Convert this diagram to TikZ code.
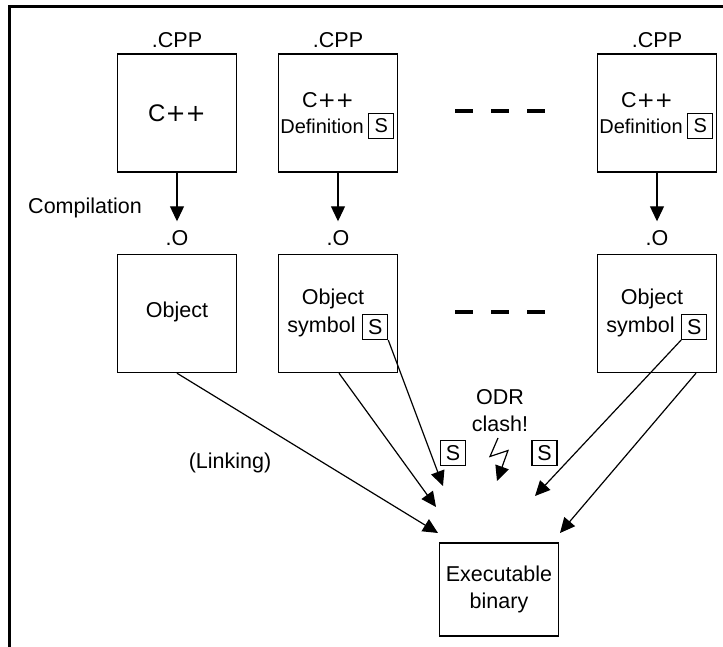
\documentclass[tikz,border=0pt]{standalone}
\usepackage{fontspec}
\setmainfont{Liberation Sans}
\newfontfamily\plusfont{DejaVu Sans}
\usetikzlibrary{arrows.meta, positioning}

\newcommand{\cplus}{C{\plusfont ++}}

\tikzset{
    filebox/.style={draw, line width=1.4pt, minimum width=119pt, minimum height=118pt, inner sep=0pt},
    sbox/.style={draw, line width=1.2pt, minimum size=25pt, inner sep=0pt},
    flow/.style={line width=1.2pt, -{Triangle[length=15pt, width=14pt]}},
    gapdash/.style={line width=4pt, dash pattern=on 18pt off 18pt},
    small/.style={font=\fontsize{20}{24}\selectfont}
}

\begin{document}
\begin{tikzpicture}[x=1pt, y=-1pt, font=\fontsize{21.5}{27}\selectfont]
    \useasboundingbox (0,0) rectangle (723,647);
    \clip (0,0) rectangle (723,647);

    % Draw the outer frame
    \draw[line width=3pt] (9,660) -- (9,7) -- (740,7);

    % Draw the source files
    \node[filebox] (cpp1) at (177,113) {};
    \node[filebox] (cpp2) at (338,113) {};
    \node[filebox] (cpp3) at (657,113) {};
    \node (ext1) at (177,40) {.CPP};
    \node (ext2) at (338,40) {.CPP};
    \node (ext3) at (657,40) {.CPP};

    \node[font=\fontsize{24}{28}\selectfont] (code1) at (177,113) {\cplus};
    \node (code2) at (328,100) {\cplus};
    \node[small] (def2) at (322,126) {Definition};
    \node[sbox, small, right=1pt of def2] (sd2) {S};
    \node (code3) at (647,100) {\cplus};
    \node[small] (def3) at (641,126) {Definition};
    \node[sbox, small, right=1pt of def3] (sd3) {S};

    \draw[gapdash] (455,111) -- (545,111);

    % Draw the object files
    \node[anchor=base, inner sep=0pt] (o1) at (177,245.5) {.O};
    \node[anchor=base, inner sep=0pt] (o2) at (338,245.5) {.O};
    \node[anchor=base, inner sep=0pt] (o3) at (657,245.5) {.O};
    \node (comp) at (85,208) {Compilation};

    \draw[flow, shorten >=9pt] (cpp1) -- (o1);
    \draw[flow, shorten >=9pt] (cpp2) -- (o2);
    \draw[flow, shorten >=9pt] (cpp3) -- (o3);

    \node[filebox] (obj1) at (177,313.5) {};
    \node[filebox] (obj2) at (338,313.5) {};
    \node[filebox] (obj3) at (657,313.5) {};

    \node (name1) at (177,312) {Object};
    \node (name2) at (333,299) {Object};
    \node (sym2) at (321.5,327) {symbol};
    \node[sbox, right=3pt of sym2] (ss2) {S};
    \node (name3) at (652,299) {Object};
    \node (sym3) at (640.5,327) {symbol};
    \node[sbox, right=3pt of sym3] (ss3) {S};

    \draw[gapdash] (455,312) -- (545,312);

    % Draw the linking step
    \node[filebox, minimum height=93pt, align=center] (exe) at (499,589.5) {Executable\\binary};
    \node (link) at (230,463) {(Linking)};
    \node (odr) at (500,397) {ODR};
    \node (clash) at (500,424) {clash!};
    \node[sbox] (sl) at (453,453) {S};
    \node[sbox] (sr) at (544.5,453) {S};

    \coordinate (in1) at (438,533);
    \coordinate (in2) at (436,507);
    \coordinate (in3) at (443,486);
    \coordinate (in4) at (535,496);
    \coordinate (in5) at (560,533);
    \coordinate (zap) at (497,481);

    \draw[flow] (obj1.south) -- (in1);
    \draw[flow] ([xshift=1pt]obj2.south) -- (in2);
    \draw[flow] (ss2.south east) -- (in3);
    \draw[flow] (ss3.south west) -- (in4);
    \draw[flow] ([xshift=39pt]obj3.south) -- (in5);

    % Draw the clash
    \draw[flow] (498,438) -- (490,456.5) -- (508,450.5) -- (zap);
\end{tikzpicture}
\end{document}
